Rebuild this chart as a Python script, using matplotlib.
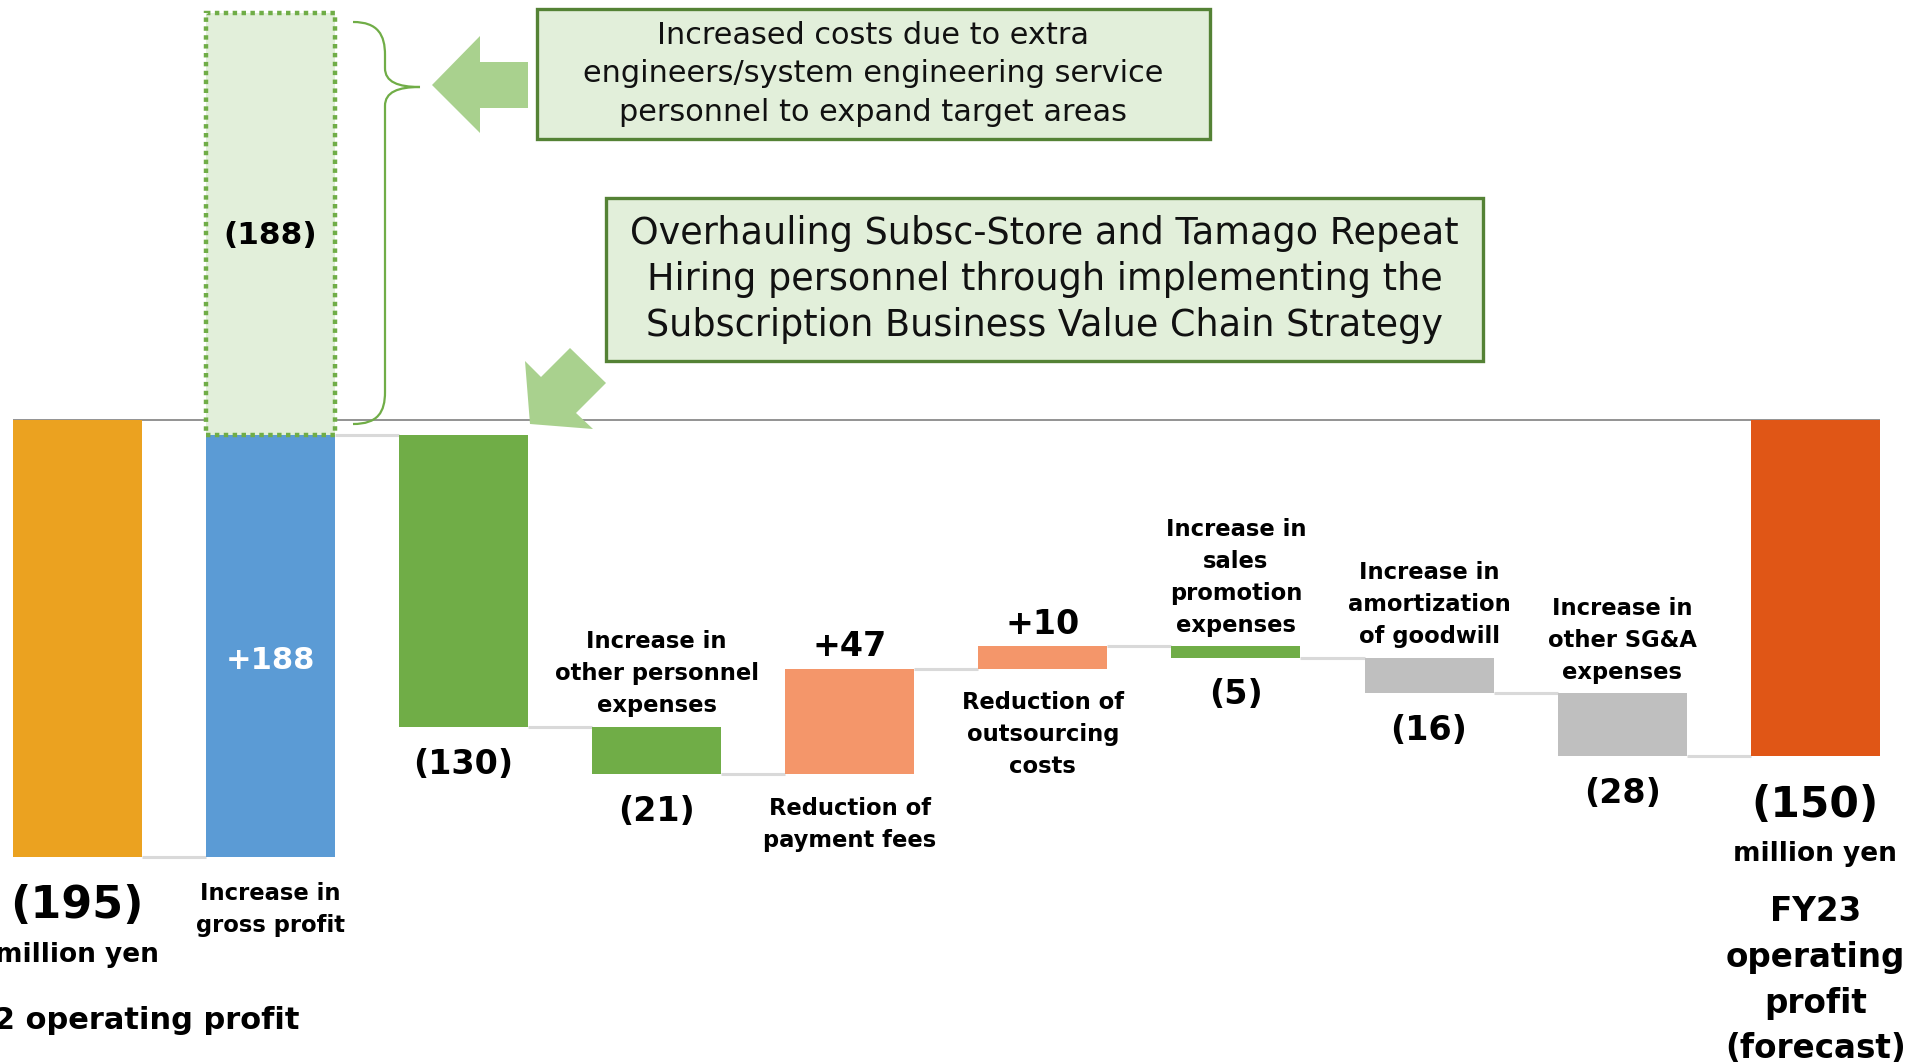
import matplotlib.pyplot as plt
import matplotlib.patches as mpatches
from matplotlib.path import Path
import numpy as np

# ---- data ----
steps = ['FY22 operating profit', 'Increase in gross profit', 'Engineer personnel costs',
         'Increase in other personnel expenses', 'Reduction of payment fees',
         'Reduction of outsourcing costs', 'Increase in sales promotion expenses',
         'Increase in amortization of goodwill', 'Increase in other SG&A expenses',
         'FY23 operating profit (forecast)']
changes = [-195, 188, -130, -21, 47, 10, -5, -16, -28, -150]
value_labels = ['(195)', '+188', '(130)', '(21)', '+47', '+10', '(5)', '(16)', '(28)', '(150)']
cat_labels = ['', 'Increase in\ngross profit', '', 'Increase in\nother personnel\nexpenses',
              'Reduction of\npayment fees', 'Reduction of\noutsourcing\ncosts',
              'Increase in\nsales\npromotion\nexpenses', 'Increase in\namortization\nof goodwill',
              'Increase in\nother SG&A\nexpenses', '']
engineer_cost = 188
bar_colors = ['#EBA220', '#5B9BD5', '#70AD47', '#70AD47', '#F4966A', '#F4966A',
              '#70AD47', '#BFBFBF', '#BFBFBF', '#E05616']

note_top = 'Increased costs due to extra\nengineers/system engineering service\npersonnel to expand target areas'
note_mid = 'Overhauling Subsc-Store and Tamago Repeat\nHiring personnel through implementing the\nSubscription Business Value Chain Strategy'

W, H = 1924, 1063
fig = plt.figure(figsize=(W / 100, H / 100), dpi=100)
ax = fig.add_axes([0, 0, 1, 1])
ax.set_xlim(-0.400, 9.563)
ax.set_ylim(-286.6, 186.9)
ax.axis('off')

n = len(changes)
x = np.arange(n)
width = 0.668

# running totals for the waterfall
levels = np.cumsum(changes[:-1])
starts = np.concatenate([[0], levels[:-1], [0]])
ends = np.concatenate([levels, [changes[-1]]])
bottoms = np.minimum(starts, ends)
heights = np.abs(ends - starts)

# baseline at zero
ax.hlines(0, x[0] - width / 2, x[-1] + width / 2, color='#808080', lw=1.2, zorder=1)

# connectors
for i in range(n - 1):
    ax.hlines(levels[i], x[i] + width / 2, x[i + 1] - width / 2, color='#D9D9D9', lw=2.2, zorder=1)

ax.bar(x, heights, bottom=bottoms, width=width, color=bar_colors, zorder=2)

# dotted breakdown box above the gross profit bar
ax.bar(x[1], engineer_cost, bottom=levels[1], width=width, color='#E2EFDA',
       edgecolor='#70AD47', linestyle=(0, (1, 1)), linewidth=3.2, zorder=3)
ax.annotate(f'({engineer_cost})', (x[1], levels[1] + engineer_cost / 2), xytext=(0, -8),
            textcoords='offset points', ha='center', va='center',
            fontsize=22.5, fontweight='bold', zorder=4)

bold = dict(fontweight='bold', ha='center')
cat_style = dict(fontsize=16.3, linespacing=1.5, **bold)
for i in range(1, n - 1):
    top = bottoms[i] + heights[i]
    bot = bottoms[i]
    if i == 1:
        ax.annotate(value_labels[i], (x[i], bot + heights[i] / 2), xytext=(0, -10),
                    textcoords='offset points', color='white', va='center', fontsize=22, **bold)
        ax.annotate(cat_labels[i], (x[i], bot), xytext=(0, -18), textcoords='offset points',
                    va='top', **cat_style)
    elif changes[i] > 0:
        ax.annotate(value_labels[i], (x[i], top), xytext=(0, 16), textcoords='offset points',
                    va='center', fontsize=24, **bold)
        ax.annotate(cat_labels[i], (x[i], bot), xytext=(0, -16), textcoords='offset points',
                    va='top', **cat_style)
    else:
        ax.annotate(value_labels[i], (x[i], bot), xytext=(0, -26.6), textcoords='offset points',
                    va='center', fontsize=24, **bold)
        if cat_labels[i]:
            ax.annotate(cat_labels[i], (x[i], top), xytext=(0, 7), textcoords='offset points',
                        va='bottom', **cat_style)

# start and end totals
ax.annotate(value_labels[0], (x[0], changes[0]), xytext=(0, -34.5), textcoords='offset points',
            va='center', fontsize=32, **bold)
ax.annotate('million yen', (x[0], changes[0]), xytext=(0, -70.5), textcoords='offset points',
            va='center', fontsize=19, fontweight='bold', ha='center')
ax.annotate(steps[0], (x[0], changes[0]), xytext=(160, -117.5), textcoords='offset points',
            va='center', ha='right', fontsize=22, fontweight='bold')

ax.annotate(value_labels[-1], (x[-1], changes[-1]), xytext=(0, -35), textcoords='offset points',
            va='center', fontsize=30.5, **bold)
ax.annotate('million yen', (x[-1], changes[-1]), xytext=(0, -70), textcoords='offset points',
            va='center', fontsize=19, fontweight='bold', ha='center')
ax.annotate('FY23\noperating\nprofit\n(forecast)', (x[-1], changes[-1]), xytext=(0, -100),
            textcoords='offset points', va='top', fontsize=23.5, linespacing=1.49, **bold)


# ---- annotation shapes, placed in image pixels ----
def fxy(px, py):
    return (px / W, 1 - py / H)


def add_box(x0, y0, x1, y1, text, size, spacing):
    rect = mpatches.Rectangle(fxy(x0, y1), (x1 - x0) / W, (y1 - y0) / H,
                              transform=fig.transFigure, facecolor='#E2EFDA',
                              edgecolor='#548235', linewidth=2.4, zorder=5)
    fig.add_artist(rect)
    cx, cy = fxy((x0 + x1) / 2, (y0 + y1) / 2)
    fig.text(cx, cy, text, ha='center', va='center', fontsize=size, linespacing=spacing,
             color='#111111', zorder=6)


add_box(537, 9, 1210, 139, note_top, 21.9, 1.4)
add_box(606, 198, 1483, 361, note_mid, 26.3, 1.3)

arrow_green = '#A9D18E'
left_arrow = [(432, 85), (480, 36), (480, 62), (528, 62), (528, 108), (480, 108), (480, 133)]
diag_arrow = [(530, 424), (525, 361), (541, 377), (570, 348), (606, 383), (576, 413), (593, 429)]
for pts in (left_arrow, diag_arrow):
    fig.add_artist(mpatches.Polygon([fxy(*p) for p in pts], closed=True, transform=fig.transFigure,
                                    facecolor=arrow_green, edgecolor='none', zorder=5))

brace_pts = [(353, 22), (378, 22), (385, 35), (385, 55), (385, 68),
             (385, 82), (398, 87), (420, 87),
             (398, 87), (385, 92), (385, 106),
             (385, 392),
             (385, 412), (378, 424), (353, 424)]
brace_codes = [Path.MOVETO, Path.CURVE4, Path.CURVE4, Path.CURVE4, Path.LINETO,
               Path.CURVE4, Path.CURVE4, Path.CURVE4,
               Path.CURVE4, Path.CURVE4, Path.CURVE4,
               Path.LINETO,
               Path.CURVE4, Path.CURVE4, Path.CURVE4]
brace = mpatches.PathPatch(Path([fxy(*p) for p in brace_pts], brace_codes), transform=fig.transFigure,
                           facecolor='none', edgecolor='#70AD47', linewidth=1.6, zorder=5)
fig.add_artist(brace)

fig.savefig('out.png', dpi=100)
